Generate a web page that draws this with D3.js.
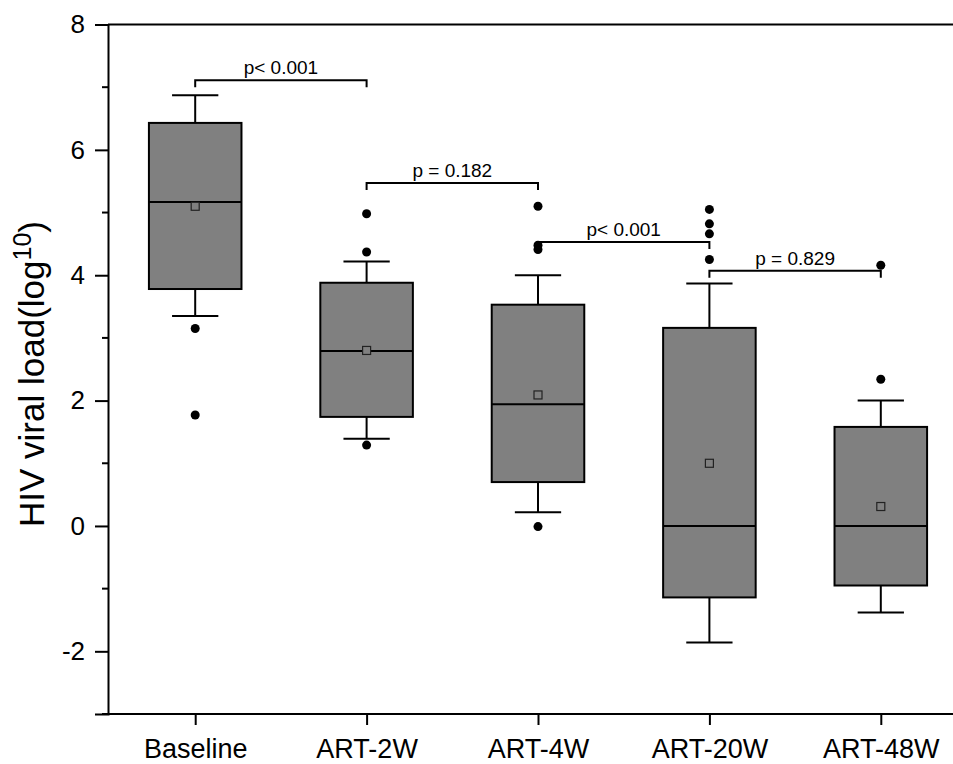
<!DOCTYPE html>
<html>
<head>
<meta charset="utf-8">
<script src="https://cdn.jsdelivr.net/npm/d3@7"></script>
<style>
  body { margin: 0; background: #fff; }
  text { font-family: "Liberation Sans", Arial, sans-serif; fill: #000; }
</style>
</head>
<body>
<script>
// data
var categories = ["Baseline", "ART-2W", "ART-4W", "ART-20W", "ART-48W"];
var whiskerLow  = [3.35, 1.39, 0.22, -1.86, -1.38];
var q1          = [3.78, 1.74, 0.70, -1.14, -0.95];
var median      = [5.17, 2.79, 1.94, 0.0, 0.0];
var q3          = [6.43, 3.88, 3.53, 3.16, 1.58];
var whiskerHigh = [6.87, 4.22, 4.00, 3.87, 2.00];
var means       = [5.10, 2.80, 2.09, 1.00, 0.31];
var outliers    = [[3.15, 1.77], [4.98, 4.37, 1.29], [5.10, 4.48, 4.41, -0.01], [5.05, 4.82, 4.66, 4.25], [4.16, 2.34]];

// significance brackets: from, to, height (y value), label
var bracketFrom  = [0, 1, 2, 3];
var bracketTo    = [1, 2, 3, 4];
var bracketY     = [7.11, 5.47, 4.53, 4.07];
var bracketLabel = ["p< 0.001", "p = 0.182", "p< 0.001", "p = 0.829"];

var yTicks = [-2, 0, 2, 4, 6, 8];
var yMinor = [-3, -1, 1, 3, 5, 7];

var W = 953, H = 764;
var plotLeft = 108, plotTop = 24.5, plotBottom = 714;

var svg = d3.select("body").append("svg")
    .attr("width", W)
    .attr("height", H);

var x = d3.scalePoint()
    .domain(categories)
    .range([109.5, 966.5])
    .padding(0.5);

var y = d3.scaleLinear()
    .domain([-3, 8])
    .range([plotBottom, plotTop]);

var boxW = x.step() * 0.54;
var capW = boxW / 2;

// top frame line
svg.append("line")
    .attr("x1", plotLeft).attr("x2", W)
    .attr("y1", plotTop).attr("y2", plotTop)
    .attr("stroke", "#000").attr("stroke-width", 2);

// y axis
var yAxis = svg.append("g")
    .attr("transform", "translate(" + plotLeft + ",0)")
    .call(d3.axisLeft(y).tickValues(yTicks).tickSize(13).tickPadding(10)
        .tickFormat(function(d) { return String(d); }));
yAxis.select(".domain").attr("stroke-width", 2);
yAxis.selectAll(".tick line").attr("stroke-width", 2);
yAxis.selectAll(".tick text")
    .style("font-size", "26px")
    .style("font-family", "Liberation Sans, Arial, sans-serif");

svg.append("g").selectAll("line")
    .data(yMinor)
    .enter().append("line")
    .attr("x1", plotLeft - 6).attr("x2", plotLeft)
    .attr("y1", function(d) { return y(d); })
    .attr("y2", function(d) { return y(d); })
    .attr("stroke", "#000").attr("stroke-width", 2);

// x axis
var xAxis = svg.append("g")
    .attr("transform", "translate(0," + plotBottom + ")")
    .call(d3.axisBottom(x).tickSize(11).tickPadding(14));
xAxis.select(".domain").remove();
xAxis.selectAll(".tick line").attr("stroke-width", 2);
xAxis.selectAll(".tick text")
    .style("font-size", "27px")
    .style("font-family", "Liberation Sans, Arial, sans-serif");
svg.append("line")
    .attr("x1", plotLeft - 1).attr("x2", W)
    .attr("y1", plotBottom).attr("y2", plotBottom)
    .attr("stroke", "#000").attr("stroke-width", 2);

// y label
svg.append("text")
    .attr("transform", "translate(44,374) rotate(-90)")
    .attr("text-anchor", "middle")
    .style("font-size", "35px")
    .html('HIV viral load(log<tspan dy="-13" font-size="25px">10</tspan><tspan dy="13">)</tspan>');

// boxes
var boxes = svg.append("g").selectAll("g")
    .data(categories)
    .enter().append("g");

boxes.append("line")
    .attr("x1", function(d) { return x(d); })
    .attr("x2", function(d) { return x(d); })
    .attr("y1", function(d, i) { return y(whiskerLow[i]); })
    .attr("y2", function(d, i) { return y(whiskerHigh[i]); })
    .attr("stroke", "#000").attr("stroke-width", 2);

boxes.append("line")
    .attr("x1", function(d) { return x(d) - capW / 2; })
    .attr("x2", function(d) { return x(d) + capW / 2; })
    .attr("y1", function(d, i) { return y(whiskerLow[i]); })
    .attr("y2", function(d, i) { return y(whiskerLow[i]); })
    .attr("stroke", "#000").attr("stroke-width", 2);

boxes.append("line")
    .attr("x1", function(d) { return x(d) - capW / 2; })
    .attr("x2", function(d) { return x(d) + capW / 2; })
    .attr("y1", function(d, i) { return y(whiskerHigh[i]); })
    .attr("y2", function(d, i) { return y(whiskerHigh[i]); })
    .attr("stroke", "#000").attr("stroke-width", 2);

boxes.append("rect")
    .attr("x", function(d) { return x(d) - boxW / 2; })
    .attr("width", boxW)
    .attr("y", function(d, i) { return y(q3[i]); })
    .attr("height", function(d, i) { return y(q1[i]) - y(q3[i]); })
    .attr("fill", "#808080")
    .attr("stroke", "#000").attr("stroke-width", 2);

boxes.append("line")
    .attr("x1", function(d) { return x(d) - boxW / 2; })
    .attr("x2", function(d) { return x(d) + boxW / 2; })
    .attr("y1", function(d, i) { return y(median[i]); })
    .attr("y2", function(d, i) { return y(median[i]); })
    .attr("stroke", "#000").attr("stroke-width", 2);

// mean markers
boxes.append("rect")
    .attr("x", function(d) { return x(d) - 4; })
    .attr("y", function(d, i) { return y(means[i]) - 4; })
    .attr("width", 8).attr("height", 8)
    .attr("fill", "#808080")
    .attr("stroke", "#222").attr("stroke-width", 1.2);

// outliers
boxes.selectAll("circle")
    .data(function(d, i) { return outliers[i].map(function(v) { return {c: d, v: v}; }); })
    .enter().append("circle")
    .attr("cx", function(d) { return x(d.c); })
    .attr("cy", function(d) { return y(d.v); })
    .attr("r", 4.5)
    .attr("fill", "#000");

// brackets
var leg = 7;
var br = svg.append("g").selectAll("g")
    .data(bracketLabel)
    .enter().append("g");

br.append("path")
    .attr("d", function(d, i) {
        var x1 = x(categories[bracketFrom[i]]), x2 = x(categories[bracketTo[i]]), yy = y(bracketY[i]);
        return "M" + x1 + "," + (yy + leg) + "V" + yy + "H" + x2 + "V" + (yy + leg);
    })
    .attr("fill", "none")
    .attr("stroke", "#000").attr("stroke-width", 2);

br.append("text")
    .attr("x", function(d, i) { return (x(categories[bracketFrom[i]]) + x(categories[bracketTo[i]])) / 2; })
    .attr("y", function(d, i) { return y(bracketY[i]) - 6; })
    .attr("text-anchor", "middle")
    .style("font-size", "19px")
    .text(function(d) { return d; });
</script>
</body>
</html>
